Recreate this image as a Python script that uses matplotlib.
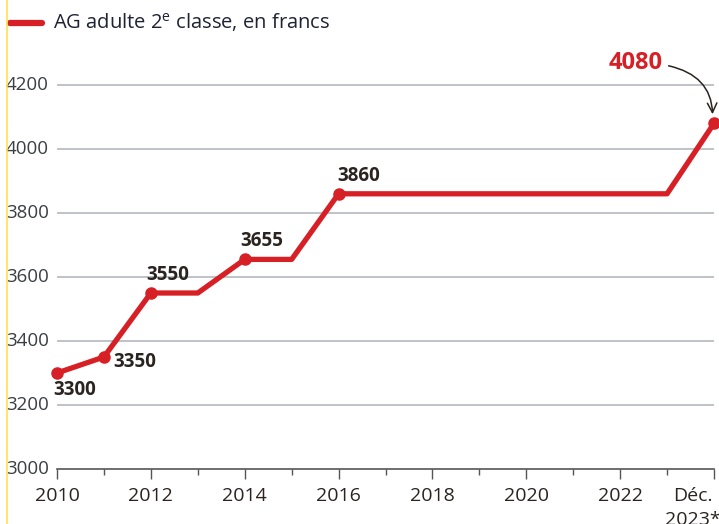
import matplotlib
matplotlib.use("Agg")
import matplotlib.pyplot as plt
from matplotlib.lines import Line2D

years = [2010, 2011, 2012, 2013, 2014, 2015, 2016, 2023, 2024]
values = [3300, 3350, 3550, 3550, 3655, 3655, 3860, 3860, 4080]
marker_idx = [0, 1, 2, 4, 6, 8]
labels = ["3300", "3350", "3550", "3655", "3860", "4080"]
xtick_pos = [2010, 2012, 2014, 2016, 2018, 2020, 2022, 2024]
xtick_labels = ["2010", "2012", "2014", "2016", "2018", "2020", "2022", "Déc.\n2023*"]
yticks = [3000, 3200, 3400, 3600, 3800, 4000, 4200]

RED = "#d71f26"
DARK = "#2a2320"
W, H = 719, 524
plt.rcParams['font.family'] = ['Open Sans', 'DejaVu Sans']
fig = plt.figure(figsize=(W / 100, H / 100), dpi=100)

x0, x1 = 57, 714
ytop, ybot = 53, 469
ax = fig.add_axes([x0 / W, 1 - ybot / H, (x1 - x0) / W, (ybot - ytop) / H])
ax.set_xlim(2010, 2024)
ax.set_ylim(3000, 4300)

for s in ["top", "right", "left"]:
    ax.spines[s].set_visible(False)
ax.spines["bottom"].set_color("#555555")
ax.spines["bottom"].set_linewidth(1.2)

for y in yticks[1:]:
    ax.axhline(y, color="#b4b9bd", lw=1.2, zorder=1)

ax.set_yticks(yticks)
ax.set_yticklabels([str(v) for v in yticks])
ax.tick_params(axis="y", length=0, pad=0, labelsize=13.5, labelcolor="#3a3f44")
for t in ax.get_yticklabels():
    t.set_horizontalalignment("left")
    t.set_x(-(x0 - 6) / (x1 - x0))
    t.set_verticalalignment("center")

ax.set_xticks(xtick_pos)
ax.set_xticklabels(xtick_labels[:-1] + [""])
ax.set_xticks(list(range(2011, 2024, 2)), minor=True)
ax.tick_params(axis="x", which="major", length=7, width=1, color="#555555", labelsize=14, labelcolor=DARK, pad=6)
ax.tick_params(axis="x", which="minor", length=4, width=1, color="#555555")
for t in ax.get_xticklabels():
    t.set_verticalalignment("top")
ax.annotate(xtick_labels[-1], xy=(xtick_pos[-1], 0), xycoords=("data", "axes fraction"),
            xytext=(-21, -18), textcoords="offset pixels", ha="center", va="top",
            multialignment="center", linespacing=1.45, fontsize=14, color=DARK, annotation_clip=False)

ax.plot(years, values, color=RED, lw=3.8, solid_capstyle="round", solid_joinstyle="round", zorder=3, clip_on=False)
ax.plot([years[i] for i in marker_idx], [values[i] for i in marker_idx], "o", color=RED, ms=8, zorder=4, clip_on=False)

offsets = [(18, -17, "center"), (9, -5, "left"), (17, 18, "center"),
           (17, 18, "center"), (-1, 18, "left")]
for k, (i, lab) in enumerate(zip(marker_idx[:-1], labels[:-1])):
    dx, dy, ha = offsets[k]
    ax.annotate(lab, (years[i], values[i]), xytext=(dx, dy), textcoords="offset pixels",
                ha=ha, va="center", fontsize=13.5, fontweight="bold", color=DARK, zorder=5)

ax.annotate(labels[-1], xy=(years[-1] - 0.03, values[-1] + 20), xytext=(2022.34, 4270),
            ha="center", va="center", fontsize=17, fontweight="bold", color=RED,
            arrowprops=dict(arrowstyle="->", color=DARK, lw=1.1, shrinkA=2, shrinkB=2,
                            connectionstyle="angle3,angleA=0,angleB=-90"), zorder=5)

# legend
fig.add_artist(Line2D([10 / W, 42 / W], [1 - 23 / H, 1 - 23 / H], color=RED, lw=4.5, solid_capstyle="round"))
fig.text(53 / W, 1 - 23 / H, r"AG adulte 2$^{\mathregular{e}}$ classe, en francs", fontsize=14.5, color="#1e2233",
         va="center", ha="left")

# yellow edge line
fig.add_artist(Line2D([7 / W, 7 / W], [0, 1], color="#ffe14d", lw=1.2))

fig.savefig("out.png", dpi=100)
